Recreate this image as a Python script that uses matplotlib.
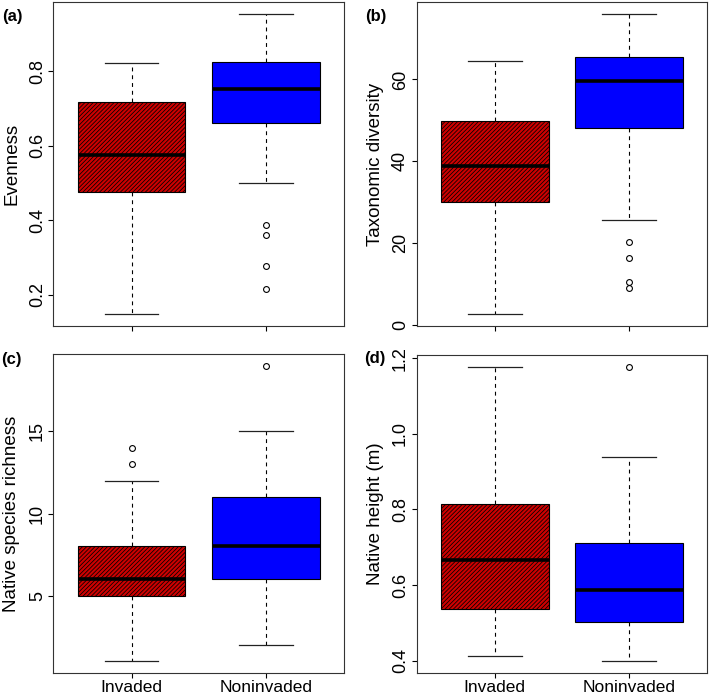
import matplotlib
matplotlib.use("Agg")
import matplotlib.pyplot as plt

plt.rcParams['font.family'] = ['Liberation Sans', 'DejaVu Sans']
plt.rcParams['hatch.linewidth'] = 0.55

groups = ["Invaded", "Noninvaded"]

# Panel (a) Evenness
even_whislo = [0.148, 0.500]
even_q1 = [0.477, 0.661]
even_med = [0.575, 0.753]
even_q3 = [0.718, 0.825]
even_whishi = [0.823, 0.954]
even_fliers = [[], [0.388, 0.361, 0.276, 0.214]]

# Panel (b) Taxonomic diversity
tax_whislo = [2.7, 25.6]
tax_q1 = [30.1, 48.2]
tax_med = [38.8, 59.7]
tax_q3 = [49.8, 65.4]
tax_whishi = [64.6, 76.0]
tax_fliers = [[], [20.3, 16.4, 10.5, 9.1]]

# Panel (c) Native species richness
rich_whislo = [1, 2]
rich_q1 = [5, 6]
rich_med = [6, 8]
rich_q3 = [8, 11]
rich_whishi = [12, 15]
rich_fliers = [[13, 14], [19]]

# Panel (d) Native height (m)
hgt_whislo = [0.412, 0.399]
hgt_q1 = [0.538, 0.502]
hgt_med = [0.667, 0.588]
hgt_q3 = [0.815, 0.712]
hgt_whishi = [1.177, 0.939]
hgt_fliers = [[], [1.177]]

panels = [
    ("(a)", "Evenness", even_whislo, even_q1, even_med, even_q3, even_whishi, even_fliers,
     [0.2, 0.4, 0.6, 0.8], ["0.2", "0.4", "0.6", "0.8"]),
    ("(b)", "Taxonomic diversity", tax_whislo, tax_q1, tax_med, tax_q3, tax_whishi, tax_fliers,
     [0, 20, 40, 60], ["0", "20", "40", "60"]),
    ("(c)", "Native species richness", rich_whislo, rich_q1, rich_med, rich_q3, rich_whishi, rich_fliers,
     [5, 10, 15], ["5", "10", "15"]),
    ("(d)", "Native height (m)", hgt_whislo, hgt_q1, hgt_med, hgt_q3, hgt_whishi, hgt_fliers,
     [0.4, 0.6, 0.8, 1.0, 1.2], ["0.4", "0.6", "0.8", "1.0", "1.2"]),
]

W, H = 709, 700
fig = plt.figure(figsize=(W / 100, H / 100), dpi=100)

# axes rectangles in pixels: left, top, right, bottom
rects = [
    (53.5, 2, 344, 326),
    (416.7, 2, 707.3, 326),
    (53.5, 354, 344, 673),
    (416.7, 355, 707.3, 673),
]
label_pos = [(2.5, 17), (365, 17), (1, 360), (364, 358)]

fill_colors = ["#CD0000", "#0000FF"]

for i, (tag, ylabel, wlo, q1, med, q3, whi, fl, yt, ytl) in enumerate(panels):
    l, t, r, b = rects[i]
    ax = fig.add_axes([l / W, 1 - b / H, (r - l) / W, (b - t) / H])
    stats = []
    for j, g in enumerate(groups):
        stats.append(dict(label=g, whislo=wlo[j], q1=q1[j], med=med[j], q3=q3[j],
                          whishi=whi[j], fliers=fl[j]))
    bp = ax.bxp(stats, positions=[1, 2], widths=0.8, patch_artist=True,
                showfliers=True,
                boxprops=dict(edgecolor="black", linewidth=0.8),
                medianprops=dict(color="black", linewidth=2.6, solid_capstyle="butt"),
                whiskerprops=dict(color="black", linewidth=0.8, linestyle=(0, (3.5, 3.5))),
                capprops=dict(color="#222222", linewidth=0.9),
                capwidths=0.4,
                flierprops=dict(marker="o", markersize=4.2, markerfacecolor="none",
                                markeredgecolor="black", markeredgewidth=0.8))
    for j, p in enumerate(bp["boxes"]):
        p.set_facecolor(fill_colors[j])
        if j == 0:
            p.set_hatch("////////")
    ax.set_xlim(0.42, 2.58)
    ax.margins(y=0.04)
    ax.autoscale(axis="y")
    ax.set_yticks(yt)
    ax.set_yticklabels(ytl)
    ax.set_xticks([1, 2])
    if i >= 2:
        ax.set_xticklabels(groups, fontsize=12.5)
    else:
        ax.set_xticklabels(["", ""])
    ax.tick_params(axis="y", labelrotation=90, length=3.5, width=0.8, pad=2, labelsize=13)
    ax.tick_params(axis="x", length=3.5, width=0.8, pad=1.5)
    for lab in ax.get_yticklabels():
        lab.set_va("center")
    for s in ax.spines.values():
        s.set_linewidth(0.8)
        s.set_color("#333333")
    ax.set_ylabel(ylabel, fontsize=13.5)
    ax.yaxis.set_label_coords(-0.114, 0.5)
    fig.text(label_pos[i][0] / W, 1 - label_pos[i][1] / H, tag, fontsize=12,
             fontweight="bold", ha="left", va="center")

fig.savefig("out.png", dpi=100)
